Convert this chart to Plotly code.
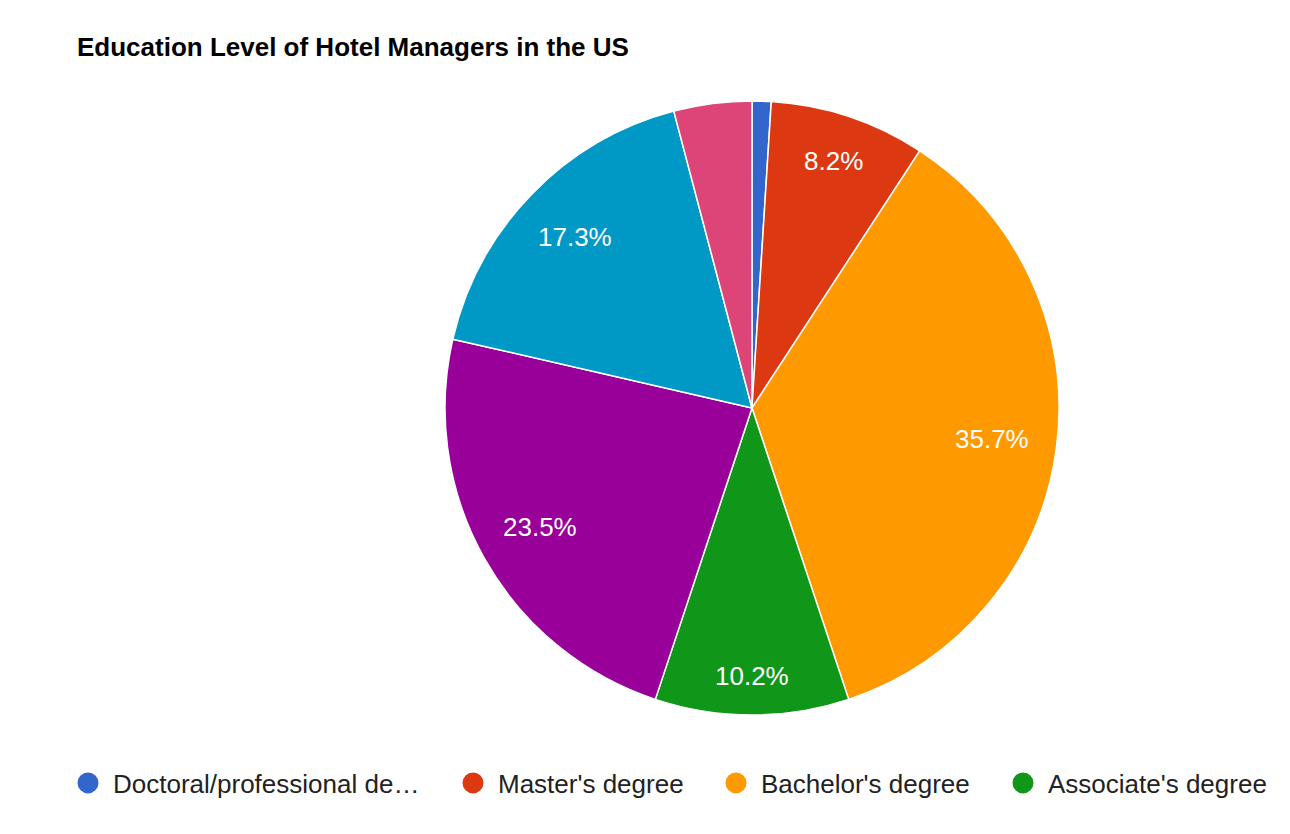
import math
import plotly.graph_objects as go

# education level shares (percent), clockwise from 12 o'clock
labels = ["Doctoral/professional degree", "Master's degree", "Bachelor's degree",
          "Associate's degree", "Some college, no degree", "High school diploma",
          "Less than high school"]
shares = [1.0, 8.2, 35.7, 10.2, 23.5, 17.3, 4.1]
colors = ["#3366cc", "#dc3912", "#ff9900", "#109618", "#990099", "#0099c6", "#dd4477"]

# only the first legend page is visible in the original chart
legend_names = ["Doctoral/professional de\u2026", "Master's degree",
                "Bachelor's degree", "Associate's degree"]
legend_x = [88, 473, 736, 1023]  # circle centres in px (page)

W, H = 1290, 834
OFF = 8  # page body margin
FONT = "Arial, Liberation Sans, sans-serif"
FS = 26

# pie geometry in figure px
cx, cy, R = 752 - OFF, 408 - OFF, 307

fig = go.Figure()
fig.add_trace(go.Pie(
    labels=labels,
    values=shares,
    textinfo="none",
    marker=dict(colors=colors, line=dict(color="white", width=1.5)),
    sort=False,
    direction="clockwise",
    rotation=0,
    showlegend=False,
    domain=dict(x=[(cx - R) / W, (cx + R) / W], y=[(H - cy - R) / H, (H - cy + R) / H]),
))

# slice labels, google-charts style: pushed out along the mid angle
# until the far corner of the text box reaches ~0.91 R
char_w = {".": 0.278, "%": 0.889}
total = sum(shares)
start = 0.0
for v in shares:
    mid = (start + v / 2) / total * 2 * math.pi
    start += v
    if v < 5:
        continue
    txt = f"{v:.1f}%"
    w = sum(char_w.get(c, 0.556) for c in txt) * FS
    h = 20
    sx, sy = math.sin(mid), -math.cos(mid)
    b = abs(sx) * w / 2 + abs(sy) * h / 2
    c = (w / 2) ** 2 + (h / 2) ** 2 - (0.912 * R) ** 2
    d = -b + math.sqrt(b * b - c)
    px, py = cx + d * sx, cy + d * sy
    fig.add_annotation(
        x=px / W, y=(H - py) / H, xref="paper", yref="paper",
        text=txt, showarrow=False, xanchor="center", yanchor="middle",
        font=dict(color="white", size=FS, family=FONT),
    )

# dummy traces just for the circle legend entries
for i, name in enumerate(legend_names):
    lg = "legend" if i == 0 else f"legend{i + 1}"
    fig.add_trace(go.Scatter(
        x=[None], y=[None], mode="markers", name=name,
        marker=dict(color=colors[i], size=16, line=dict(color=colors[i], width=5)),
        legend=lg,
    ))
    fig.update_layout({lg: dict(
        x=(legend_x[i] - 33) / W, xanchor="left",
        y=(H - 783 + OFF) / H, yanchor="middle",
        orientation="h", bgcolor="rgba(0,0,0,0)", itemwidth=40,
        font=dict(size=FS, family=FONT, color="#222222"),
    )})

fig.update_layout(
    width=W, height=H,
    margin=dict(l=0, r=0, t=0, b=0),
    paper_bgcolor="white", plot_bgcolor="white",
    xaxis=dict(visible=False), yaxis=dict(visible=False),
    title=dict(text="<b>Education Level of Hotel Managers in the US</b>",
               x=(77 - OFF) / W, xanchor="left", y=(H - 47 + OFF) / H, yanchor="middle",
               font=dict(size=FS, family=FONT, color="black")),
)

fig.write_html("out.html")
